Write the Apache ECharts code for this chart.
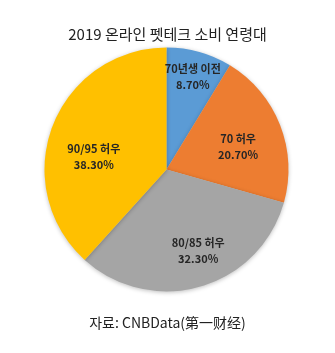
<!DOCTYPE html>
<html>
<head>
<meta charset="utf-8">
<style>
html,body{margin:0;padding:0;background:#fff;}
#chart{width:335px;height:353px;}
</style>
<script src="https://cdn.jsdelivr.net/npm/echarts@6/dist/echarts.min.js"></script>
</head>
<body>
<div id="chart"></div>
<script>
var categories = ['70년생 이전', '70 허우', '80/85 허우', '90/95 허우'];
var values = [8.7, 20.7, 32.3, 38.3];
var colors = ['#5B9BD5', '#ED7D31', '#A5A5A5', '#FFC000'];
var titleText = '2019 온라인 펫테크 소비 연령대';
var sourceText = '자료: CNBData(第一财经)';
// label nudges relative to default inside position
var labelNudge = [[9, -31], [12, 1], [14, 20], [-13, 10]];

var chart = echarts.init(document.getElementById('chart'));
var data = categories.map(function (c, i) {
  return { name: c, value: values[i], itemStyle: { color: colors[i] } };
});
chart.setOption({
  animation: false,
  title: [{
    text: titleText, left: 'center', top: 22,
    textStyle: { fontFamily: 'Noto Sans CJK KR', fontSize: 15, fontWeight: 'normal', color: '#222' }
  }, {
    text: sourceText, left: 'center', top: 311,
    textStyle: { fontFamily: 'Noto Sans CJK KR', fontSize: 14, fontWeight: 'normal', color: '#222' }
  }],
  series: [{
    type: 'pie',
    center: [166.5, 169.5],
    radius: 122,
    startAngle: 90,
    clockwise: true,
    data: data,
    itemStyle: { shadowBlur: 4, shadowColor: 'rgba(0,0,0,0.25)', shadowOffsetY: 1 },
    label: {
      show: true, position: 'inside',
      formatter: function (p) { return p.name + '\n' + p.value.toFixed(2) + '%'; },
      fontFamily: 'Noto Sans CJK KR', fontSize: 11, fontWeight: 'bold', color: '#262626',
      lineHeight: 16
    },
    labelLayout: function (p) {
      var n = labelNudge[p.dataIndex];
      return { dx: n[0], dy: n[1] };
    },
    labelLine: { show: false },
    emphasis: { disabled: true }
  }]
});
</script>
</body>
</html>
